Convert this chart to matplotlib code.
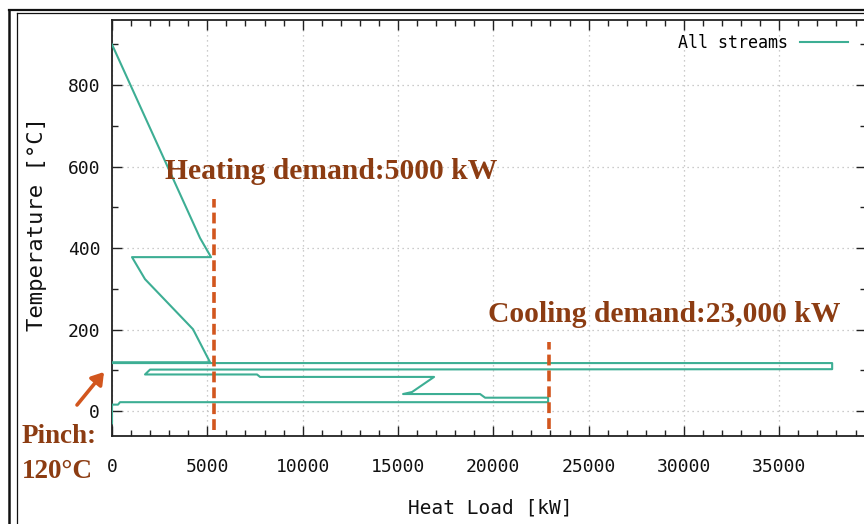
import numpy as np
import matplotlib
matplotlib.use('Agg')
import matplotlib.pyplot as plt
from matplotlib.ticker import MultipleLocator
from matplotlib.lines import Line2D

# "All streams" curve (heat load kW, temperature C)
load = [0, 4617, 5194, 1049, 1731, 4250, 5142, 0, 0, 37775, 37775, 1994, 1731,
        7608, 7765, 16894, 15740, 15268, 19307, 19570, 22875, 22875, 420, 315, 0, 0]
temp = [900, 425, 378, 378, 324, 201, 120, 120, 118, 118, 103, 102, 90,
        90, 84, 84, 47, 42, 42, 33, 33, 22, 22, 16, 16, -30]

heat_x, heat_y = 5350, [-47, 520]
cool_x, cool_y = 22930, [-44, 170]
heat_label = 'Heating demand:5000 kW'
cool_label = 'Cooling demand:23,000 kW'
pinch_label = ['Pinch:', '120°C']
xticks = np.arange(0, 40000, 5000)
yticks = np.arange(0, 1000, 200)

teal = '#3dae94'
orange = '#d2561e'
brown = '#8c3c12'
mono = 'DejaVu Sans Mono'
W, H = 864, 524

fig = plt.figure(figsize=(W/100, H/100), dpi=100)
ax = fig.add_axes([112/W, (H-436)/H, 754/W, 416/H])

ax.plot(load, temp, color=teal, lw=1.5, label='All streams', zorder=3)
ax.plot([heat_x, heat_x], heat_y, color=orange, lw=2.6, dashes=(3, 1.4), zorder=4)
ax.plot([cool_x, cool_x], cool_y, color=orange, lw=2.6, dashes=(3, 1.4), zorder=4)

ax.set_xlim(0, 39550)
ax.set_ylim(-61, 960)
ax.set_xticks(xticks)
ax.set_yticks(yticks)
ax.xaxis.set_minor_locator(MultipleLocator(1000))
ax.yaxis.set_minor_locator(MultipleLocator(100))
ax.tick_params(which='both', direction='in', top=True, right=True, width=1, color='#222222')
ax.tick_params(which='major', length=7)
ax.tick_params(which='minor', length=4)
ax.tick_params(axis='x', pad=15.5)
ax.tick_params(axis='y', pad=8.5)
for lab in ax.get_xticklabels() + ax.get_yticklabels():
    lab.set_fontfamily(mono)
    lab.set_fontsize(13)
    lab.set_color('#111111')
for s in ax.spines.values():
    s.set_linewidth(1.3)
    s.set_color('#222222')
ax.grid(True, which='major', color='#bbbbbb', linestyle=(0, (1, 3)), lw=0.9)
ax.set_axisbelow(True)

ax.set_xlabel('Heat Load [kW]', fontfamily=mono, fontsize=14, color='#111111')
ax.xaxis.set_label_coords(0.501, -0.151)
ax.set_ylabel('Temperature [°C]', fontfamily=mono, fontsize=16, color='#111111')
ax.yaxis.set_label_coords(-0.086, 0.51)

ax.legend(loc='center right', bbox_to_anchor=(848/W, (H-43)/H), bbox_transform=fig.transFigure,
          frameon=False, markerfirst=False, handlelength=2.9, handletextpad=0.7,
          borderpad=0, borderaxespad=0, prop={'family': mono, 'size': 12})

ax.text(2780, 569, heat_label, fontfamily='Liberation Serif', fontweight='bold',
        fontsize=21.3, color=brown, va='baseline', ha='left', zorder=5)
ax.text(19727, 218, cool_label, fontfamily='Liberation Serif', fontweight='bold',
        fontsize=21.3, color=brown, va='baseline', ha='left', zorder=5)

fig.text(22/W, (H-443)/H, pinch_label[0], fontfamily='Liberation Serif', fontweight='bold',
         fontsize=19.5, color=brown, va='baseline', ha='left')
fig.text(22/W, (H-478)/H, pinch_label[1], fontfamily='Liberation Serif', fontweight='bold',
         fontsize=19.5, color=brown, va='baseline', ha='left')
fig.add_artist(matplotlib.patches.FancyArrowPatch(
    (77/W, (H-405)/H), (104/W, (H-372)/H), transform=fig.transFigure,
    arrowstyle='-|>,head_length=7,head_width=4.5', color=orange, lw=2.6, shrinkA=0, shrinkB=0))

# double frame of the screenshot
fig.add_artist(Line2D([8.5/W, 1], [(H-10)/H, (H-10)/H], transform=fig.transFigure, color='#111111', lw=1.6))
fig.add_artist(Line2D([8.5/W, 8.5/W], [0, (H-10)/H], transform=fig.transFigure, color='#111111', lw=1.8))
fig.add_artist(Line2D([16.5/W, 1], [(H-13.2)/H, (H-13.2)/H], transform=fig.transFigure, color='#111111', lw=0.9))
fig.add_artist(Line2D([16.5/W, 16.5/W], [0, (H-13.2)/H], transform=fig.transFigure, color='#111111', lw=0.9))

fig.savefig('out.png', dpi=100)
